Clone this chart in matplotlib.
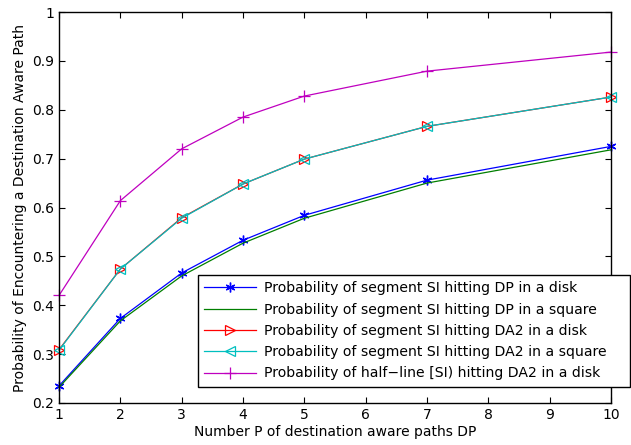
import matplotlib
matplotlib.use("Agg")
import matplotlib.pyplot as plt

x = [1, 2, 3, 4, 5, 7, 10]
seg_dp_disk = [0.235, 0.373, 0.466, 0.533, 0.584, 0.656, 0.725]
seg_dp_square = [0.232, 0.368, 0.460, 0.527, 0.578, 0.650, 0.718]
seg_da2_disk = [0.309, 0.474, 0.579, 0.648, 0.699, 0.766, 0.826]
seg_da2_square = [0.308, 0.474, 0.578, 0.648, 0.699, 0.766, 0.826]
halfline_da2_disk = [0.420, 0.614, 0.720, 0.785, 0.828, 0.879, 0.918]

labels = [
    "Probability of segment SI hitting DP in a disk",
    "Probability of segment SI hitting DP in a square",
    "Probability of segment SI hitting DA2 in a disk",
    "Probability of segment SI hitting DA2 in a square",
    "Probability of half\u2212line [SI) hitting DA2 in a disk",
]

fig = plt.figure(figsize=(6.31, 4.45), dpi=100)
ax = fig.add_axes([59/631, 1-403/445, (611-59)/631, (403-12)/445])

lw = 0.9
kw = dict(lw=lw, clip_on=False)
ax.plot(x, seg_dp_disk, color="#0000ff", marker=(6, 2, 0), markersize=7, mew=1.0, label=labels[0], **kw)
ax.plot(x, seg_dp_square, color="#007f00", label=labels[1], **kw)
ax.plot(x, seg_da2_disk, color="#ff0000", marker=">", markersize=7, mfc="none", mew=0.9, label=labels[2], **kw)
ax.plot(x, seg_da2_square, color="#00bfbf", marker="<", markersize=7, mfc="none", mew=0.9, label=labels[3], **kw)
ax.plot(x, halfline_da2_disk, color="#bf00bf", marker="+", markersize=8, mew=0.9, label=labels[4], **kw)

ax.set_xlim(1, 10)
ax.set_ylim(0.2, 1.0)
ax.set_xticks(range(1, 11))
ax.set_yticks([0.2, 0.3, 0.4, 0.5, 0.6, 0.7, 0.8, 0.9, 1.0])
ax.set_yticklabels(["0.2", "0.3", "0.4", "0.5", "0.6", "0.7", "0.8", "0.9", "1"])
ax.tick_params(direction="in", labelsize=10, top=True, right=True, length=4)
for s in ax.spines.values():
    s.set_linewidth(1.0)
ax.set_xlabel("Number P of destination aware paths DP", fontsize=10, labelpad=2)
ax.set_ylabel("Probability of Encountering a Destination Aware Path", fontsize=10, labelpad=4)

leg = fig.legend(loc="upper left", bbox_to_anchor=(198/631, 1-386/445, 432/631, 111/445),
                 mode="expand", fontsize=10.1,
                 frameon=True, fancybox=False, edgecolor="black", framealpha=1,
                 borderpad=0.45, labelspacing=0.52, handlelength=3.7, handletextpad=0.55,
                 borderaxespad=0)
leg.get_frame().set_linewidth(1.0)

fig.savefig("out.png", dpi=100)
